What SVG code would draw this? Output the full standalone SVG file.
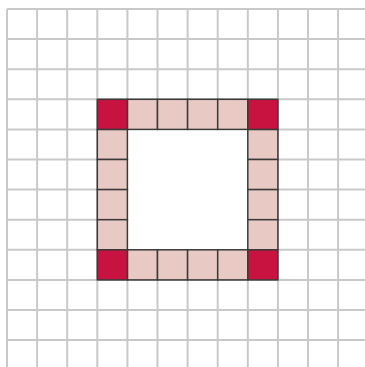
<svg xmlns="http://www.w3.org/2000/svg" width="365" height="367" viewBox="0 0 365 367">
<style>
.g{stroke:#c9c9c9;stroke-width:2;fill:none}
.c{fill:#c8123f;stroke:#3a3a3a;stroke-width:1.5}
.p{fill:#e8c9c4;stroke:#3a3a3a;stroke-width:1.5}
</style>
<rect width="365" height="367" fill="#fff"/>
<g id="grid">
<path class="g" d="M7 9V367M37.1 9V367M67.2 9V367M97.3 9V367M127.4 9V367M157.5 9V367M187.6 9V367M217.7 9V367M247.8 9V367M277.9 9V367M308 9V367M338.1 9V367"/>
<path class="g" d="M7 9H365M7 39.1H365M7 69.2H365M7 99.3H365M7 129.4H365M7 159.5H365M7 189.6H365M7 219.7H365M7 249.8H365M7 279.9H365M7 310H365M7 340.1H365"/>
</g>
<g id="inner"><rect x="127.4" y="129.4" width="120.4" height="120.4" fill="#fff"/></g>
<g id="ring">
<rect class="p" x="127.4" y="99.3" width="30.1" height="30.1"/>
<rect class="p" x="157.5" y="99.3" width="30.1" height="30.1"/>
<rect class="p" x="187.6" y="99.3" width="30.1" height="30.1"/>
<rect class="p" x="217.7" y="99.3" width="30.1" height="30.1"/>
<rect class="p" x="127.4" y="249.8" width="30.1" height="30.1"/>
<rect class="p" x="157.5" y="249.8" width="30.1" height="30.1"/>
<rect class="p" x="187.6" y="249.8" width="30.1" height="30.1"/>
<rect class="p" x="217.7" y="249.8" width="30.1" height="30.1"/>
<rect class="p" x="97.3" y="129.4" width="30.1" height="30.1"/>
<rect class="p" x="97.3" y="159.5" width="30.1" height="30.1"/>
<rect class="p" x="97.3" y="189.6" width="30.1" height="30.1"/>
<rect class="p" x="97.3" y="219.7" width="30.1" height="30.1"/>
<rect class="p" x="247.8" y="129.4" width="30.1" height="30.1"/>
<rect class="p" x="247.8" y="159.5" width="30.1" height="30.1"/>
<rect class="p" x="247.8" y="189.6" width="30.1" height="30.1"/>
<rect class="p" x="247.8" y="219.7" width="30.1" height="30.1"/>
<rect class="c" x="97.3" y="99.3" width="30.1" height="30.1"/>
<rect class="c" x="247.8" y="99.3" width="30.1" height="30.1"/>
<rect class="c" x="97.3" y="249.8" width="30.1" height="30.1"/>
<rect class="c" x="247.8" y="249.8" width="30.1" height="30.1"/>
</g>
</svg>
